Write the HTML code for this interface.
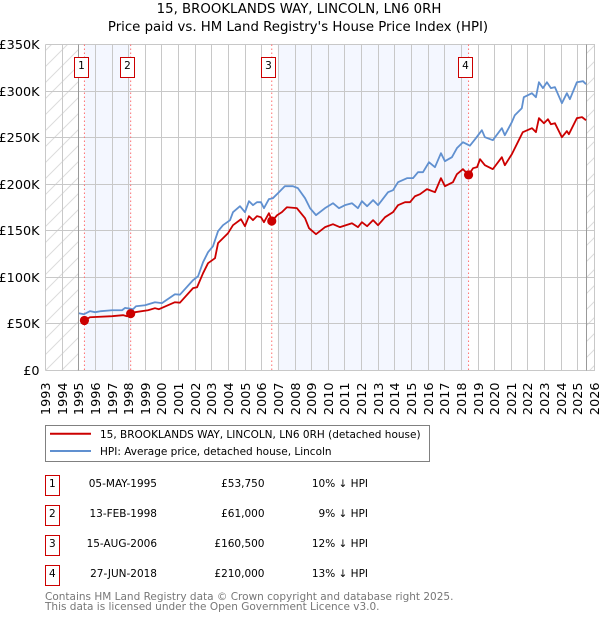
<!DOCTYPE html>
<html>
<head>
<meta charset="utf-8">
<title>15, Brooklands Way price chart</title>
<style>
html,body{margin:0;padding:0;background:#fff;width:600px;height:620px;overflow:hidden}
svg{display:block}
text{font-family:"DejaVu Sans","Liberation Sans",sans-serif;fill:#000}
</style>
</head>
<body>
<svg id="chart" xmlns="http://www.w3.org/2000/svg" width="600" height="620" viewBox="0 0 600 620">
<defs>
<pattern id="hatch" patternUnits="userSpaceOnUse" width="16" height="16">
<path d="M-1 1L1 -1M0 16L16 0M15 17L17 15" stroke="#dcdcdc" stroke-width="1" fill="none"/>
</pattern>
</defs>
<text x="299" y="13" font-size="13.3" text-anchor="middle">15, BROOKLANDS WAY, LINCOLN, LN6 0RH</text>
<text x="298" y="31" font-size="13.3" text-anchor="middle">Price paid vs. HM Land Registry's House Price Index (HPI)</text>
<g id="plot"></g>

<g>
<rect x="45.5" y="425.5" width="384" height="36" fill="#fff" stroke="#808080" stroke-width="1"/>
<line x1="50" x2="91" y1="433.8" y2="433.8" stroke="#cc0000" stroke-width="2"/>
<text x="100" y="438" font-size="10.5">15, BROOKLANDS WAY, LINCOLN, LN6 0RH (detached house)</text>
<line x1="50" x2="91" y1="451" y2="451" stroke="#6090d0" stroke-width="2"/>
<text x="100" y="455" font-size="10.5">HPI: Average price, detached house, Lincoln</text>
</g>

<g>
<g>
<rect x="45.5" y="475.5" width="14" height="20" fill="#fff" stroke="#cc0000"/>
<text x="52.3" y="487" text-anchor="middle" font-size="10.5">1</text>
<text x="157" y="487" text-anchor="end" font-size="10.5">05-MAY-1995</text>
<text x="264.5" y="487" text-anchor="end" font-size="10.5">£53,750</text>
<text x="368" y="487" text-anchor="end" font-size="10.5">10% ↓ HPI</text>
</g>
<g>
<rect x="45.5" y="505.5" width="14" height="20" fill="#fff" stroke="#cc0000"/>
<text x="52.3" y="517" text-anchor="middle" font-size="10.5">2</text>
<text x="157" y="517" text-anchor="end" font-size="10.5">13-FEB-1998</text>
<text x="264.5" y="517" text-anchor="end" font-size="10.5">£61,000</text>
<text x="368" y="517" text-anchor="end" font-size="10.5">9% ↓ HPI</text>
</g>
<g>
<rect x="45.5" y="535.5" width="14" height="20" fill="#fff" stroke="#cc0000"/>
<text x="52.3" y="547" text-anchor="middle" font-size="10.5">3</text>
<text x="157" y="547" text-anchor="end" font-size="10.5">15-AUG-2006</text>
<text x="264.5" y="547" text-anchor="end" font-size="10.5">£160,500</text>
<text x="368" y="547" text-anchor="end" font-size="10.5">12% ↓ HPI</text>
</g>
<g>
<rect x="45.5" y="565.5" width="14" height="20" fill="#fff" stroke="#cc0000"/>
<text x="52.3" y="577" text-anchor="middle" font-size="10.5">4</text>
<text x="157" y="577" text-anchor="end" font-size="10.5">27-JUN-2018</text>
<text x="264.5" y="577" text-anchor="end" font-size="10.5">£210,000</text>
<text x="368" y="577" text-anchor="end" font-size="10.5">13% ↓ HPI</text>
</g>
</g>

<text x="45" y="600" font-size="10.5" style="fill:#777">Contains HM Land Registry data © Crown copyright and database right 2025.</text>
<text x="45" y="610" font-size="10.5" style="fill:#777">This data is licensed under the Open Government Licence v3.0.</text>
</svg>

<script>
const yearTicks = [1993,1994,1995,1996,1997,1998,1999,2000,2001,2002,2003,2004,2005,2006,2007,2008,2009,2010,2011,2012,2013,2014,2015,2016,2017,2018,2019,2020,2021,2022,2023,2024,2025,2026];
const priceTicks = [0,50,100,150,200,250,300,350];
const priceTickLabels = ['£0','£50K','£100K','£150K','£200K','£250K','£300K','£350K'];

const hpiYears = [1995.01,1995.31,1995.67,1995.98,1996.34,1997.0,1997.6,1997.78,1998.08,1998.26,1998.44,1998.98,1999.58,2000.0,2000.78,2001.08,2001.87,2002.17,2002.47,2002.77,2003.07,2003.37,2003.67,2004.09,2004.27,2004.69,2004.99,2005.23,2005.47,2005.71,2005.95,2006.13,2006.43,2006.67,2007.03,2007.39,2007.87,2008.17,2008.6,2008.9,2009.26,2009.8,2010.28,2010.64,2011.0,2011.42,2011.78,2012.02,2012.33,2012.69,2012.99,2013.59,2013.89,2014.19,2014.73,2015.09,2015.39,2015.69,2016.05,2016.41,2016.77,2017.01,2017.43,2017.73,2018.09,2018.51,2018.87,2019.23,2019.41,2019.89,2020.43,2020.61,2021.03,2021.21,2021.63,2021.75,2022.24,2022.48,2022.66,2022.9,2023.14,2023.38,2023.62,2024.04,2024.34,2024.52,2024.94,2025.31,2025.49];
const hpiValues = [61.5,60.4,63.7,62.6,63.7,64.7,64.7,67.2,66.4,65.8,69,70.1,73.3,72.3,81.9,81.4,97,101.2,116.3,127,133.5,149.6,156,161.4,170,176.4,170,181.8,177.5,180.7,180.7,174.3,184,185,191.4,197.9,197.9,195.8,185,174.3,166.8,174.3,179.6,174.3,177.5,179.6,174.3,181.8,176.4,182.9,177.5,191.4,193.6,202.2,206.5,206.5,212.9,212.9,223.6,218.3,233.3,224.7,229,238.7,245.1,241.4,249.4,258,250.5,247.3,260.2,252.6,266.6,274.1,281.6,293.4,297.7,293.4,309.5,303.1,309.5,303.1,304.2,287,297.7,291.3,309.5,310.6,307.4];

const paidYears = [1995.34,1995.67,1997.0,1997.66,1997.9,1998.12,1998.38,1999.16,1999.58,1999.82,2000.78,2001.08,2001.87,2002.11,2002.47,2002.77,2003.19,2003.37,2003.97,2004.27,2004.75,2004.99,2005.23,2005.47,2005.71,2005.95,2006.13,2006.43,2006.62,2006.92,2007.21,2007.51,2008.11,2008.6,2008.84,2009.26,2009.8,2010.28,2010.7,2011.42,2011.78,2012.02,2012.33,2012.69,2012.99,2013.41,2013.89,2014.19,2014.61,2014.91,2015.21,2015.51,2015.93,2016.41,2016.77,2017.01,2017.49,2017.73,2018.09,2018.43,2018.7,2018.94,2019.12,2019.41,2019.89,2020.43,2020.61,2021.03,2021.39,2021.69,2022.24,2022.48,2022.66,2022.96,2023.2,2023.38,2023.62,2024.04,2024.34,2024.46,2024.94,2025.25,2025.49];
const paidValues = [53.75,57.2,58.3,59.4,58.3,61,62.6,64.7,66.9,65.8,73.3,72.8,88.4,89.4,104.5,115.2,120.6,136.7,147.4,156,162.4,154.9,165.7,161.4,165.7,164.6,159.2,168.9,160.5,166.7,170,175.3,174.3,163.5,152.8,146.3,153.9,157.1,153.9,158.1,153.9,159.2,154.9,161.4,156,164.6,170,177.5,180.7,180.7,187.1,189.3,194.7,191.4,206.5,197.9,202.2,210.8,216.2,210,217.2,218.3,226.9,220.4,216.2,229,220.4,232.2,245.1,255.9,260.2,255.9,270.9,265.5,269.8,264.4,265.5,250.5,257,253.7,270.9,272,268.7];

const saleLabels = ['1','2','3','4'];
const saleYears = [1995.34,1998.12,2006.6,2018.43];
const saleValues = [53.75,61,160.5,210];
const dataStartYear = 1995;
const dataEndYear = 2025.5;

const NS = 'http://www.w3.org/2000/svg';
const plotLeft = 45.5, plotRight = 595, plotTop = 44.5, plotBottom = 370.5;
const minYear = 1993, maxYear = 2026.03, maxPrice = 350;
const plot = document.getElementById('plot');

function xScale(year) { return plotLeft + (year - minYear) / (maxYear - minYear) * (plotRight - plotLeft); }
function yScale(value) { return plotBottom - value / maxPrice * (plotBottom - plotTop); }
function crisp(v) { return Math.floor(v) + 0.5; }
function make(tag, attrs) {
  const el = document.createElementNS(NS, tag);
  for (const k in attrs) el.setAttribute(k, attrs[k]);
  plot.appendChild(el);
  return el;
}

// Shaded spans between sales
const spanPairs = [[0, 1], [2, 3]];
const spanStartNudge = [0, 6];
spanPairs.forEach(function (pair, i) {
  const x0 = xScale(saleYears[pair[0]]) + spanStartNudge[i];
  const x1 = xScale(saleYears[pair[1]]);
  const band = make('rect', {x: x0, y: plotTop, width: x1 - x0, height: plotBottom - plotTop, fill: '#f4f7ff'});
  
  
});

// Hatched out-of-range regions
const hatchLeft = make('rect', {x: plotLeft, y: plotTop, width: xScale(dataStartYear) - plotLeft, height: plotBottom - plotTop, fill: 'url(#hatch)'});


const hatchRight = make('rect', {x: xScale(dataEndYear), y: plotTop, width: plotRight - xScale(dataEndYear), height: plotBottom - plotTop, fill: 'url(#hatch)'});



// Grid and ticks
yearTicks.forEach(function (year) {
  const x = crisp(xScale(year));
  const grid = make('line', {x1: x, x2: x, y1: plotTop, y2: plotBottom, stroke: '#c8c8c8', 'stroke-width': 1});
  
  
  const label = make('text', {transform: 'translate(' + (x + 4.5) + ',382.5) rotate(-90)', 'text-anchor': 'end', 'font-size': 12.8});
  
  
  label.textContent = String(year);
});
priceTicks.forEach(function (value, i) {
  const y = crisp(yScale(value));
  const grid = make('line', {x1: plotLeft, x2: plotRight, y1: y, y2: y, stroke: '#c8c8c8', 'stroke-width': 1});
  
  
  const label = make('text', {x: 39.5, y: y + 4.5, 'text-anchor': 'end', 'font-size': 12.8});
  
  
  label.textContent = priceTickLabels[i];
});

// Data range boundaries
[dataStartYear, dataEndYear].forEach(function (year) {
  const x = crisp(xScale(year));
  const edge = make('line', {x1: x, x2: x, y1: plotTop, y2: plotBottom, stroke: '#999', 'stroke-width': 1});
  
  
});

// Sale reference lines
saleYears.forEach(function (year) {
  const x = xScale(year);
  const ref = make('line', {x1: x, x2: x, y1: plotTop, y2: plotBottom, stroke: '#ff7070', 'stroke-width': 1, 'stroke-dasharray': '1.5,2.5'});
  
  
});

function seriesPath(xs, ys) {
  return xs.map(function (year, i) {
    return (i ? 'L' : 'M') + xScale(year).toFixed(2) + ' ' + yScale(ys[i]).toFixed(2);
  }).join('');
}
const hpiLine = make('path', {d: seriesPath(hpiYears, hpiValues), fill: 'none', stroke: '#6090d0', 'stroke-width': 1.8, 'stroke-linejoin': 'round'});


const paidLine = make('path', {d: seriesPath(paidYears, paidValues), fill: 'none', stroke: '#cc0000', 'stroke-width': 1.8, 'stroke-linejoin': 'round'});



// Sale markers and numbered flags
saleYears.forEach(function (year, i) {
  const x = xScale(year);
  const dot = make('circle', {cx: x, cy: yScale(saleValues[i]), r: 4.6, fill: '#cc0000'});
  
  
  const flagX = crisp(x - 10);
  const flag = make('rect', {x: flagX, y: 57.5, width: 14, height: 20, fill: '#fff', stroke: '#cc0000', 'stroke-width': 1});
  
  
  const num = make('text', {x: flagX + 7, y: 69, 'text-anchor': 'middle', 'font-size': 10.5});
  
  
  num.textContent = saleLabels[i];
});
</script>
</body>
</html>
